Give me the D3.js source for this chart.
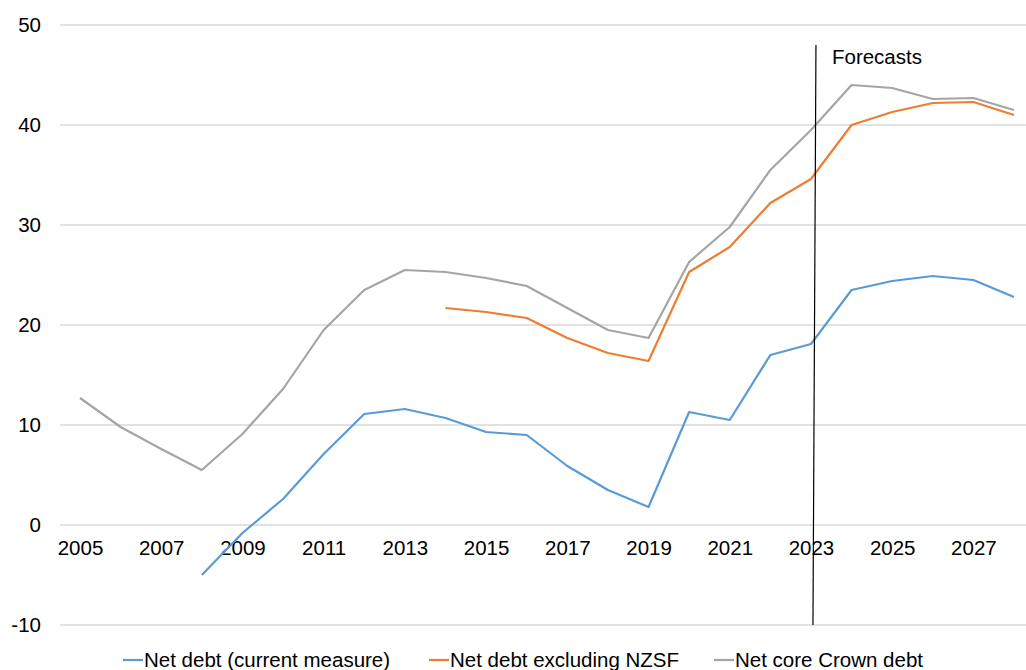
<!DOCTYPE html>
<html>
<head>
<meta charset="utf-8">
<script src="https://cdn.jsdelivr.net/npm/d3@7"></script>
<style>
  body { margin: 0; background: #fff; }
  svg { display: block; font-family: "Liberation Sans", Arial, sans-serif; }
</style>
</head>
<body>
<div id="chart"></div>
<script>
// data
var years = d3.range(2005, 2029);
var tickYears = [2005, 2007, 2009, 2011, 2013, 2015, 2017, 2019, 2021, 2023, 2025, 2027];
var yTicks = [-10, 0, 10, 20, 30, 40, 50];

var netDebtCurrent = [null, null, null, -5.0, -0.8, 2.6, 7.1, 11.1, 11.6, 10.7, 9.3, 9.0,
    5.9, 3.5, 1.8, 11.3, 10.5, 17.0, 18.1, 23.5, 24.4, 24.9, 24.5, 22.8];
var netDebtExNZSF = [null, null, null, null, null, null, null, null, null, 21.7, 21.3, 20.7,
    18.7, 17.2, 16.4, 25.3, 27.8, 32.2, 34.6, 40.0, 41.3, 42.2, 42.3, 41.0];
var netCoreCrown = [12.7, 9.8, 7.6, 5.5, 9.1, 13.6, 19.5, 23.5, 25.5, 25.3, 24.7, 23.9,
    21.7, 19.5, 18.7, 26.3, 29.8, 35.5, 39.5, 44.0, 43.7, 42.6, 42.7, 41.5];

var seriesNames = ["Net debt (current measure)", "Net debt excluding NZSF", "Net core Crown debt"];
var seriesColors = ["#5B9BD5", "#ED7D31", "#A5A5A5"];
var seriesValues = [netDebtCurrent, netDebtExNZSF, netCoreCrown];
var forecastYear = 2023;

// size
var W = 1026, H = 670;
var fontSize = 20.5;

var svg = d3.select("#chart").append("svg").attr("width", W).attr("height", H);

var x = d3.scaleLinear().domain([2005, 2028]).range([80, 1014]);
var y = d3.scaleLinear().domain([-10, 50]).range([625, 25]);

// gridlines
svg.append("g").selectAll("line").data(yTicks).enter().append("line")
    .attr("x1", 60).attr("x2", W)
    .attr("y1", function(d) { return y(d); })
    .attr("y2", function(d) { return y(d); })
    .attr("stroke", "#d9d9d9").attr("stroke-width", 1.3);

// y axis labels (plain hyphen for negatives, like the original)
var yAxis = d3.axisLeft(y).tickValues(yTicks).tickSize(0).tickPadding(0)
    .tickFormat(function(d) { return String(d); });
var gy = svg.append("g").attr("transform", "translate(41,0)").call(yAxis);
gy.select(".domain").remove();
gy.selectAll("text").attr("font-size", fontSize).attr("fill", "#000")
    .attr("font-family", "Liberation Sans, Arial, sans-serif");

// x axis labels (sit just under the zero line)
var xAxis = d3.axisBottom(x).tickValues(tickYears).tickFormat(d3.format("d")).tickSize(0).tickPadding(0);
var gx = svg.append("g").attr("transform", "translate(0," + (y(0) + 15) + ")").call(xAxis);
gx.select(".domain").remove();
gx.selectAll("text").attr("font-size", fontSize).attr("fill", "#000")
    .attr("font-family", "Liberation Sans, Arial, sans-serif");

// lines
var line = d3.line()
    .defined(function(d) { return d.v != null; })
    .x(function(d) { return x(d.year); })
    .y(function(d) { return y(d.v); });

seriesValues.forEach(function(vals, i) {
    var pts = years.map(function(yr, j) { return { year: yr, v: vals[j] }; });
    svg.append("path").datum(pts)
        .attr("d", line)
        .attr("fill", "none")
        .attr("stroke", seriesColors[i])
        .attr("stroke-width", 2.2)
        .attr("stroke-linejoin", "round");
});

// forecast marker
svg.append("line")
    .attr("x1", x(forecastYear) + 5).attr("y1", 45)
    .attr("x2", x(forecastYear) + 2).attr("y2", y(-10))
    .attr("stroke", "#000").attr("stroke-width", 1.2);
svg.append("text")
    .attr("x", x(forecastYear) + 21).attr("y", 64)
    .attr("font-size", fontSize).text("Forecasts");

// legend
var legendX = [123, 429, 714];
var legend = svg.append("g");
seriesNames.forEach(function(name, i) {
    var g = legend.append("g").attr("transform", "translate(" + legendX[i] + ",660)");
    g.append("line").attr("x1", 0).attr("x2", 20).attr("y1", 0).attr("y2", 0)
        .attr("stroke", seriesColors[i]).attr("stroke-width", 2.2);
    g.append("text").attr("x", 21).attr("y", 7).attr("font-size", fontSize).text(name);
});
</script>
</body>
</html>
